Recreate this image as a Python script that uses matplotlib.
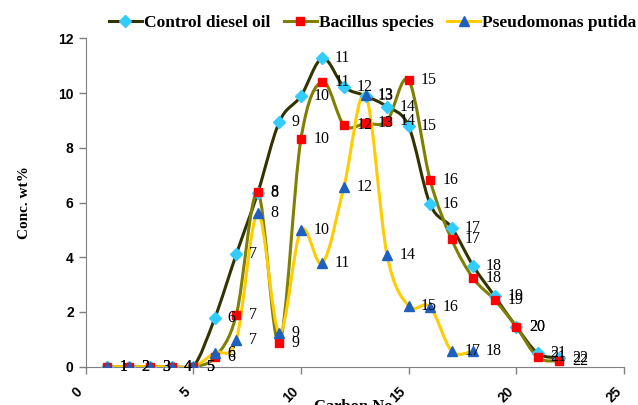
"""Carbon number distribution of diesel oil residues after biodegradation."""

import matplotlib
matplotlib.use("Agg")
import matplotlib.pyplot as plt
import numpy as np
from matplotlib.lines import Line2D
from matplotlib.patches import PathPatch
from matplotlib.path import Path

carbon_no = list(range(1, 23))
control_diesel = [0, 0, 0, 0, 0, 1.77, 4.11, 6.36, 8.95, 9.89, 11.27, 10.23,
                  9.9, 9.5, 8.79, 5.94, 5.08, 3.68, 2.57, 1.46, 0.49, 0.32]
bacillus = [0, 0, 0, 0, 0, 0.34, 1.89, 6.37, 0.88, 8.31, 10.41, 8.83,
            8.89, 8.99, 10.47, 6.82, 4.65, 3.23, 2.44, 1.46, 0.34, 0.21]
pseudomonas_no = list(range(1, 19))
pseudomonas = [0, 0, 0, 0, 0, 0.51, 0.98, 5.6, 1.24, 4.99, 3.79, 6.58,
               9.93, 4.08, 2.22, 2.18, 0.57, 0.57]

SERIES = [
    ("Control diesel oil", carbon_no, control_diesel, "#333300", "D", "#33CCFF", 6.5),
    ("Bacillus species", carbon_no, bacillus, "#808000", "s", "#FF0000", 6),
    ("Pseudomonas putida", pseudomonas_no, pseudomonas, "#FFCC00", "^", "#1F5FBF", 6.5),
]

SERIF = ["Liberation Serif", "DejaVu Serif"]
SANS = ["Liberation Sans", "DejaVu Sans"]


def smooth_path(x, y):
    # Excel-like smoothed line: Catmull-Rom segments as cubic Beziers
    pts = np.column_stack([x, y]).astype(float)
    n = len(pts)
    verts = [pts[0]]
    codes = [Path.MOVETO]
    for i in range(n - 1):
        p0 = pts[i - 1] if i > 0 else pts[i]
        p1 = pts[i]
        p2 = pts[i + 1]
        p3 = pts[i + 2] if i + 2 < n else pts[i + 1]
        verts += [p1 + (p2 - p0) / 6, p2 - (p3 - p1) / 6, p2]
        codes += [Path.CURVE4] * 3
    return Path(verts, codes)


fig = plt.figure(figsize=(6.38, 4.05), dpi=100)
ax = fig.add_axes([85.5 / 638, 38.3 / 405, 538.5 / 638, 328.4 / 405])

handles = []
for label, xs, ys, line_color, marker, marker_color, msize in SERIES:
    ax.add_patch(PathPatch(smooth_path(xs, ys), facecolor="none",
                           edgecolor=line_color, linewidth=2.2, zorder=2))
    ax.plot(xs, ys, linestyle="none", marker=marker, markersize=msize,
            markerfacecolor=marker_color, markeredgecolor=marker_color, zorder=3)
    for xv, yv in zip(xs, ys):
        ax.annotate(str(xv), (xv, yv), xytext=(9, 0), textcoords="offset points",
                    ha="left", va="center", fontsize=11.5, family=SERIF, zorder=4)
    handles.append(Line2D([], [], color=line_color, linewidth=2.2, marker=marker,
                          markersize=msize, markerfacecolor=marker_color,
                          markeredgecolor=marker_color, label=label))

ax.set_xlim(0, 25)
ax.set_ylim(0, 12)
ax.set_xticks(range(0, 26, 5))
ax.set_yticks(range(0, 13, 2))
for side in ("top", "right"):
    ax.spines[side].set_visible(False)
for side in ("left", "bottom"):
    ax.spines[side].set_color("#808080")
ax.tick_params(axis="both", colors="#808080", length=5, width=1)
ax.tick_params(axis="x", pad=8)
for lab in ax.get_yticklabels():
    lab.set(color="black", fontweight="bold", fontsize=10, family=SANS)
for lab in ax.get_xticklabels():
    lab.set(color="black", fontweight="bold", fontsize=10, family=SANS,
            rotation=45, ha="right", va="top")

fig.text(25 / 638, 1 - 203 / 405, "Conc. wt%", rotation=90, ha="center", va="center",
         fontsize=11, fontweight="bold", family=SERIF)
fig.text(355 / 638, 1 - 399 / 405, "Carbon No.", ha="center", va="top",
         fontsize=12, fontweight="bold", family=SERIF)

fig.legend(handles=handles, loc="center left", bbox_to_anchor=(109 / 638, 1 - 23 / 405),
           ncol=3, frameon=False, borderaxespad=0, borderpad=0, handlelength=1.9,
           handletextpad=0.1, columnspacing=0.8,
           prop={"family": SERIF, "weight": "bold", "size": 12.5})

fig.savefig("out.png", dpi=100)
